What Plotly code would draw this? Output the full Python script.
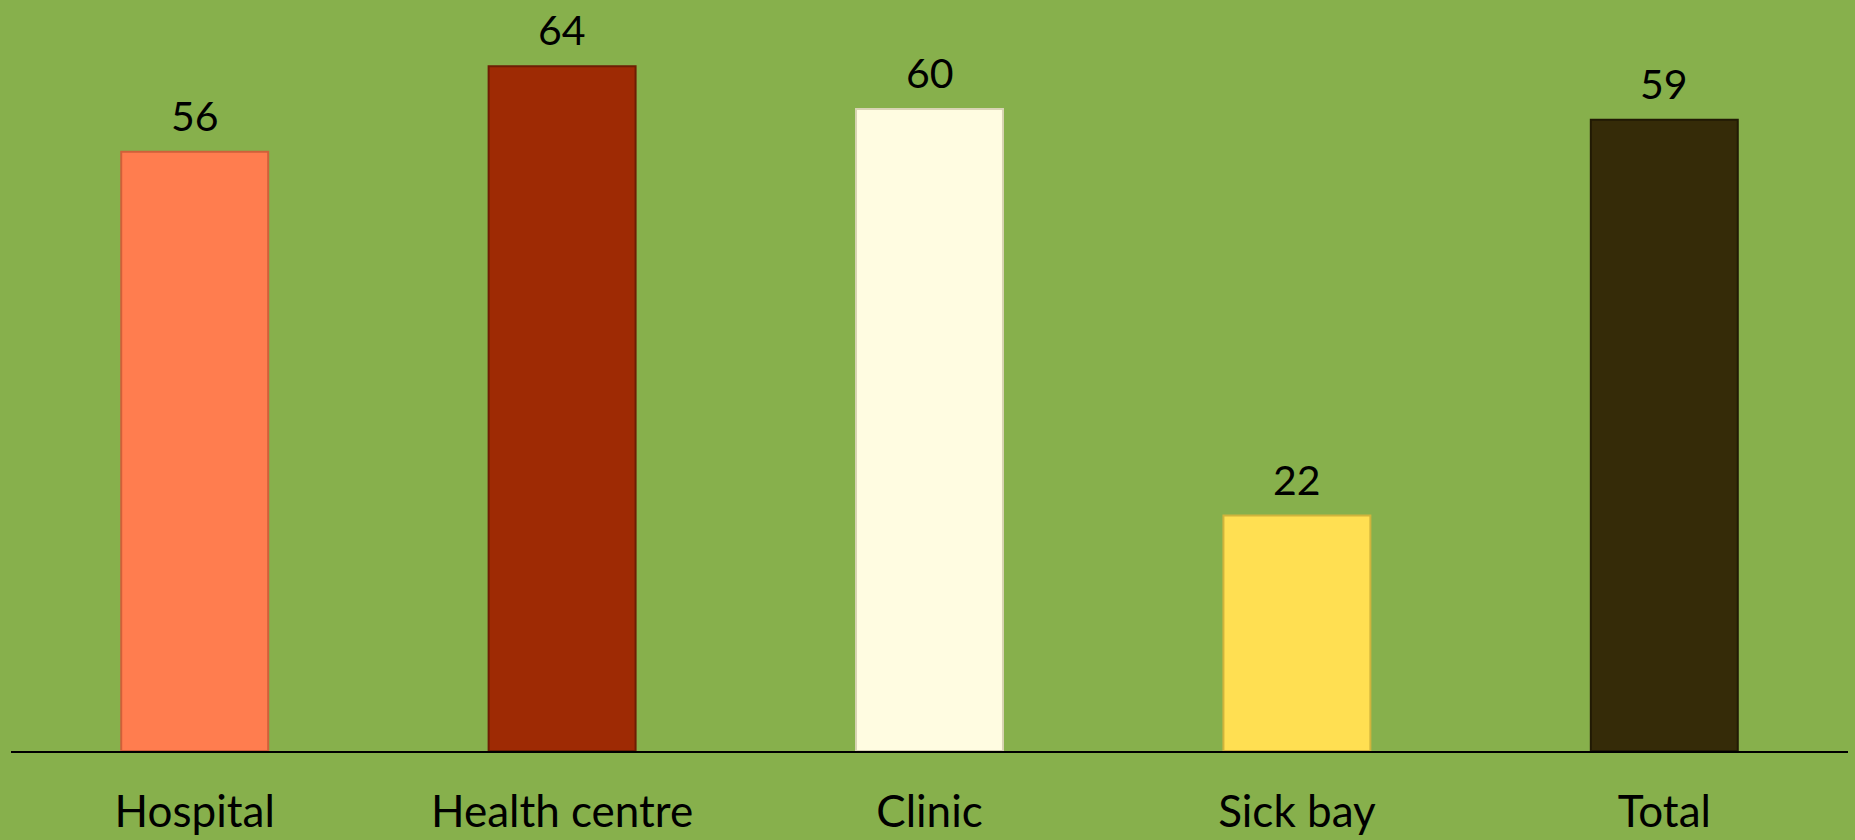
import plotly.graph_objects as go

categories = ["Hospital", "Health centre", "Clinic", "Sick bay", "Total"]
values = [56, 64, 60, 22, 59]
bar_colors = ["#FF7D4F", "#9E2A04", "#FFFCE1", "#FFDF52", "#352B08"]
edge_colors = ["#D0603A", "#6E1D03", "#D8D4B4", "#D0B43C", "#211A04"]

fig = go.Figure()
fig.add_trace(go.Bar(
    x=categories, y=values,
    marker=dict(color=bar_colors, line=dict(color=edge_colors, width=2)),
    width=0.4,
    hoverinfo="skip",
))

for c, v in zip(categories, values):
    fig.add_annotation(x=c, y=v, text=str(v), showarrow=False,
                       yanchor="bottom", yshift=10,
                       font=dict(family="Lato", size=41, color="black"))

fig.update_layout(
    width=1855, height=840,
    paper_bgcolor="#87B04C", plot_bgcolor="#87B04C",
    margin=dict(l=11, r=7, t=2, b=89),
    showlegend=False,
    bargap=0.6,
)
fig.update_xaxes(showline=True, linecolor="black", linewidth=1.5,
                 ticks="", showgrid=False, ticklabelstandoff=21,
                 tickfont=dict(family="Lato", size=44, color="black"))
fig.update_yaxes(range=[0, 70], visible=False, showgrid=False, zeroline=False)

fig.write_html("out.html", config={"displayModeBar": False},
               post_script="document.body.style.margin='0';document.body.style.overflow='hidden';")
